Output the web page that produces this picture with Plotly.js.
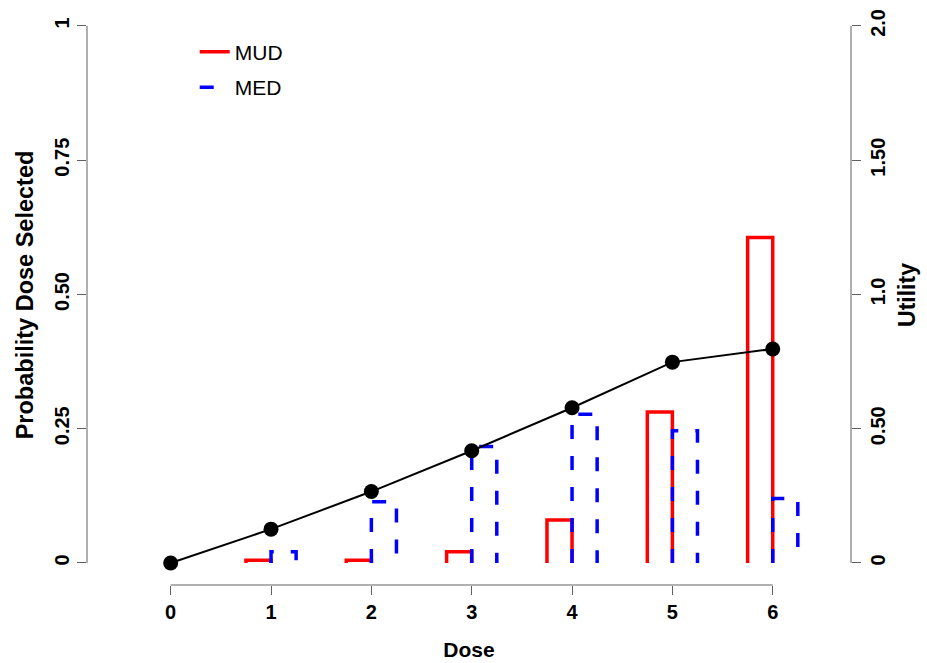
<!DOCTYPE html>
<html>
<head>
<meta charset="utf-8">
<script src="https://cdn.plot.ly/plotly-3.0.1.min.js"></script>
<style>html,body{margin:0;padding:0;background:#fff;}#chart{width:927px;height:663px;}</style>
</head>
<body>
<div id="chart"></div>
<script>
// ---- data ----
const doses = [1, 2, 3, 4, 5, 6];
const mudProb = [0.005, 0.005, 0.021, 0.080, 0.281, 0.606];
const medProb = [0.021, 0.114, 0.217, 0.277, 0.246, 0.120];
const utilityDoses = [0, 1, 2, 3, 4, 5, 6];
const utility = [0, 0.126, 0.266, 0.418, 0.578, 0.748, 0.797];
const xTickVals = [0, 1, 2, 3, 4, 5, 6];
const leftTickVals = [0, 0.25, 0.5, 0.75, 1];
const leftTickText = ['0', '0.25', '0.50', '0.75', '1'];
const rightTickVals = [0, 0.5, 1, 1.5, 2];
const rightTickText = ['0', '0.50', '1.0', '1.50', '2.0'];

const barW = 0.25;
function barPath(xs, hs, offset) {
  const px = [], py = [];
  xs.forEach((d, i) => {
    const a = d + offset, b = d + offset + barW;
    px.push(a, a, b, b, null);
    py.push(0, hs[i], hs[i], 0, null);
  });
  return {x: px, y: py};
}
const mudP = barPath(doses, mudProb, -barW);
const medP = barPath(doses, medProb, 0);

const FONT = 'Liberation Sans, Arial, Helvetica, sans-serif';

const traces = [
  {x: mudP.x, y: mudP.y, type: 'scatter', mode: 'lines', name: 'MUD',
   line: {color: '#ff0000', width: 3.5}, connectgaps: false, legendgroup: 'a', hoverinfo: 'skip'},
  {x: medP.x, y: medP.y, type: 'scatter', mode: 'lines', name: 'MED',
   line: {color: '#0000ff', width: 3.5, dash: '14px,17px'}, connectgaps: false, legendgroup: 'b', hoverinfo: 'skip'},
  {x: utilityDoses, y: utility, type: 'scatter', mode: 'lines+markers', yaxis: 'y2',
   line: {color: '#000000', width: 2}, marker: {color: '#000000', size: 15}, showlegend: false}
];

const axisGrey = '#606060';
const layout = {
  width: 927, height: 663,
  margin: {l: 87, r: 76, t: 5, b: 78},
  paper_bgcolor: '#ffffff', plot_bgcolor: '#ffffff',
  font: {family: FONT, color: '#000'},
  showlegend: true,
  legend: {x: 0.141, y: 0.954, xanchor: 'left', yanchor: 'top', bgcolor: 'rgba(0,0,0,0)',
           font: {size: 21, family: FONT}, tracegroupgap: 5},
  xaxis: {range: [-0.834, 6.780], tickvals: xTickVals, ticktext: xTickVals.map(String),
          ticks: 'outside', ticklen: 9, tickcolor: axisGrey, tickwidth: 1,
          showgrid: false, zeroline: false, showline: false,
          tickfont: {size: 20, weight: 'bold'},
          title: {text: 'Dose', font: {size: 21, weight: 'bold'}, standoff: 20}},
  yaxis: {range: [-0.041, 1.039], tickvals: leftTickVals, ticktext: leftTickText,
          ticks: 'outside', ticklen: 9, tickcolor: axisGrey, tickwidth: 1, tickangle: -90,
          showgrid: false, zeroline: false, showline: false,
          tickfont: {size: 20, weight: 'bold'},
          title: {text: 'Probability Dose Selected', font: {size: 23.5, weight: 'bold'}, standoff: 10}},
  yaxis2: {range: [-0.082, 2.078], overlaying: 'y', side: 'right',
          tickvals: rightTickVals, ticktext: rightTickText,
          ticks: 'outside', ticklen: 9, tickcolor: axisGrey, tickwidth: 1, tickangle: -90,
          showgrid: false, zeroline: false, showline: false,
          tickfont: {size: 20, weight: 'bold'},
          title: {text: 'Utility', font: {size: 23, weight: 'bold'}, standoff: 10}},
  shapes: [
    {type: 'line', xref: 'x', yref: 'paper', x0: xTickVals[0], x1: xTickVals[xTickVals.length-1], y0: 0, y1: 0,
     line: {color: axisGrey, width: 1}},
    {type: 'line', xref: 'paper', yref: 'y', x0: 0, x1: 0, y0: leftTickVals[0], y1: leftTickVals[leftTickVals.length-1],
     line: {color: axisGrey, width: 1}},
    {type: 'line', xref: 'paper', yref: 'y2', x0: 1, x1: 1, y0: rightTickVals[0], y1: rightTickVals[rightTickVals.length-1],
     line: {color: axisGrey, width: 1}}
  ]
};

Plotly.newPlot('chart', traces, layout, {displayModeBar: false, staticPlot: true});
</script>
</body>
</html>
